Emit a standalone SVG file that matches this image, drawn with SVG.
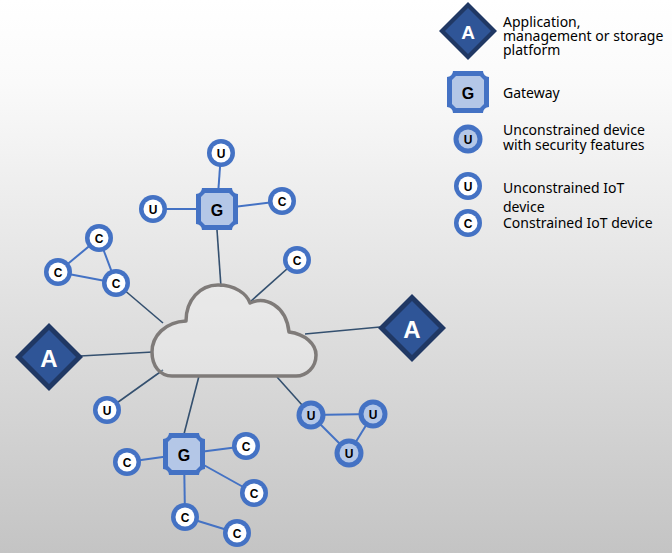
<svg xmlns="http://www.w3.org/2000/svg" xmlns:xlink="http://www.w3.org/1999/xlink" width="672" height="553" viewBox="0 0 672 553">
<defs>
<linearGradient id="bg" x1="0" y1="0" x2="0" y2="1">
<stop offset="0" stop-color="#ffffff"/>
<stop offset="0.15" stop-color="#fafafa"/>
<stop offset="1" stop-color="#c4c4c4"/>
</linearGradient>
<g id="gw">
<path d="M -15 -21 H 15 A 6 6 0 0 0 21 -15 V 15 A 6 6 0 0 0 15 21 H -15 A 6 6 0 0 0 -21 15 V -15 A 6 6 0 0 0 -15 -21 Z" fill="#4472c4"/>
<polygon points="-12,-16 12,-16 16,-12 16,12 12,16 -12,16 -16,12 -16,-12" fill="#b4c7e7"/>
</g>
<g id="devW">
<circle r="14" fill="#4472c4"/>
<circle r="9.5" fill="#ffffff"/>
</g>
<g id="devS">
<circle r="14.5" fill="#4472c4"/>
<circle r="9.5" fill="#b4c7e7"/>
</g>
<g id="app">
<polygon points="0,-34 34,0 0,34 -34,0" fill="#203864"/>
<polygon points="0,-27 27,0 0,27 -27,0" fill="#2f5597"/>
</g>
<g id="appS">
<polygon points="0,-29 29,0 0,29 -29,0" fill="#203864"/>
<polygon points="0,-23 23,0 0,23 -23,0" fill="#2f5597"/>
</g>
</defs>
<style>
.lbl{font-family:"Liberation Sans",Arial,sans-serif;font-weight:bold;font-size:12px;fill:#000;text-anchor:middle;dominant-baseline:central}
.glbl{font-family:"Liberation Sans",Arial,sans-serif;font-weight:bold;font-size:16px;fill:#000;text-anchor:middle;dominant-baseline:central}
.albl{font-family:"Liberation Sans",Arial,sans-serif;font-weight:bold;font-size:24px;fill:#fff;text-anchor:middle;dominant-baseline:central}
.leg{font-family:"Noto Sans","Open Sans",sans-serif;font-size:14px;fill:#000}
.cl{stroke:#34506f;stroke-width:1.6;fill:none}
.dl{stroke:#4472c4;stroke-width:2;fill:none}
</style>
<rect width="672" height="553" fill="url(#bg)"/>

<g id="connectors">
<line class="cl" x1="217" y1="230" x2="221" y2="287"/>
<line class="cl" x1="116" y1="283" x2="163" y2="323"/>
<line class="cl" x1="297" y1="260" x2="250" y2="302"/>
<line class="cl" x1="380" y1="327" x2="305" y2="334"/>
<line class="cl" x1="80" y1="356" x2="153" y2="352"/>
<line class="cl" x1="107" y1="410" x2="163" y2="370"/>
<line class="cl" x1="184" y1="434" x2="199" y2="376"/>
<line class="cl" x1="311" y1="415" x2="277" y2="377"/>
<line class="dl" x1="217" y1="209" x2="221" y2="153"/>
<line class="dl" x1="217" y1="209" x2="153" y2="209"/>
<line class="dl" x1="217" y1="209" x2="282" y2="201"/>
<line class="dl" x1="99" y1="238" x2="58" y2="272"/>
<line class="dl" x1="58" y1="272" x2="116" y2="283"/>
<line class="dl" x1="99" y1="238" x2="116" y2="283"/>
<line class="dl" x1="184" y1="454" x2="127" y2="462"/>
<line class="dl" x1="184" y1="454" x2="246" y2="446"/>
<line class="dl" x1="184" y1="454" x2="254" y2="493"/>
<line class="dl" x1="184" y1="454" x2="185" y2="517"/>
<line class="dl" x1="185" y1="517" x2="237" y2="533"/>
<line class="dl" x1="311" y1="415" x2="373" y2="414"/>
<line class="dl" x1="373" y1="414" x2="349" y2="453"/>
<line class="dl" x1="311" y1="415" x2="349" y2="453"/>
</g>

<g id="cloud">
<path d="M 172 376 C 160 376 152 366 152 352 C 152 336 165 322 186 321 C 186 300 200 285 218 285 C 235 285 247 294 250 303 C 265 296 286 305 289 332 C 305 334 316 344 316 355 C 316 367 307 376 296 376 Z" fill="#ffffff" fill-opacity="0.25" stroke="#7f7b79" stroke-width="3.5" stroke-linejoin="round"/>
</g>

<g id="gw-top"><use xlink:href="#gw" x="217" y="209"/><text class="glbl" x="217" y="210">G</text></g>
<g id="u-top"><use xlink:href="#devW" x="221" y="153"/><text class="lbl" x="221" y="154">U</text></g>
<g id="u-left-top"><use xlink:href="#devW" x="153" y="209"/><text class="lbl" x="153" y="210">U</text></g>
<g id="c-gw-top"><use xlink:href="#devW" x="282" y="201"/><text class="lbl" x="282" y="202">C</text></g>

<g id="c-cl-top"><use xlink:href="#devW" x="99" y="238"/><text class="lbl" x="99" y="239">C</text></g>
<g id="c-cl-left"><use xlink:href="#devW" x="58" y="272"/><text class="lbl" x="58" y="273">C</text></g>
<g id="c-cl-right"><use xlink:href="#devW" x="116" y="283"/><text class="lbl" x="116" y="284">C</text></g>

<g id="c-right"><use xlink:href="#devW" x="297" y="260"/><text class="lbl" x="297" y="261">C</text></g>

<g id="app-right"><use xlink:href="#app" x="412" y="328"/><text class="albl" x="412" y="329">A</text></g>
<g id="app-left"><use xlink:href="#app" x="49" y="357"/><text class="albl" x="49" y="358">A</text></g>

<g id="u-bottom-left"><use xlink:href="#devW" x="107" y="410"/><text class="lbl" x="107" y="411">U</text></g>

<g id="gw-bottom"><use xlink:href="#gw" x="184" y="454"/><text class="glbl" x="184" y="455">G</text></g>
<g id="c-gb-left"><use xlink:href="#devW" x="127" y="462"/><text class="lbl" x="127" y="463">C</text></g>
<g id="c-gb-ru"><use xlink:href="#devW" x="246" y="446"/><text class="lbl" x="246" y="447">C</text></g>
<g id="c-gb-rl"><use xlink:href="#devW" x="254" y="493"/><text class="lbl" x="254" y="494">C</text></g>
<g id="c-gb-below"><use xlink:href="#devW" x="185" y="517"/><text class="lbl" x="185" y="518">C</text></g>
<g id="c-gb-br"><use xlink:href="#devW" x="237" y="533"/><text class="lbl" x="237" y="534">C</text></g>

<g id="us-left"><use xlink:href="#devS" x="311" y="415"/><text class="lbl" x="311" y="416">U</text></g>
<g id="us-right"><use xlink:href="#devS" x="373" y="414"/><text class="lbl" x="373" y="415">U</text></g>
<g id="us-bottom"><use xlink:href="#devS" x="349" y="453"/><text class="lbl" x="349" y="454">U</text></g>

<g id="legend">
<g id="leg-app"><use xlink:href="#appS" x="468" y="31"/><text class="albl" x="468" y="32" style="font-size:19px">A</text>
<text class="leg" x="503" y="27">Application,</text>
<text class="leg" x="503" y="41">management or storage</text>
<text class="leg" x="503" y="55">platform</text></g>
<g id="leg-gw"><use xlink:href="#gw" x="468" y="92"/><text class="glbl" x="468" y="93">G</text>
<text class="leg" x="503" y="98">Gateway</text></g>
<g id="leg-us"><use xlink:href="#devS" x="468" y="139"/><text class="lbl" x="468" y="140">U</text>
<text class="leg" x="503" y="135">Unconstrained device</text>
<text class="leg" x="503" y="150">with security features</text></g>
<g id="leg-u"><use xlink:href="#devW" x="468" y="186"/><text class="lbl" x="468" y="187">U</text>
<text class="leg" x="503" y="193">Unconstrained IoT</text>
<text class="leg" x="503" y="212">device</text></g>
<g id="leg-c"><use xlink:href="#devW" x="468" y="223"/><text class="lbl" x="468" y="224">C</text>
<text class="leg" x="503" y="228">Constrained IoT device</text></g>
</g>
</svg>
